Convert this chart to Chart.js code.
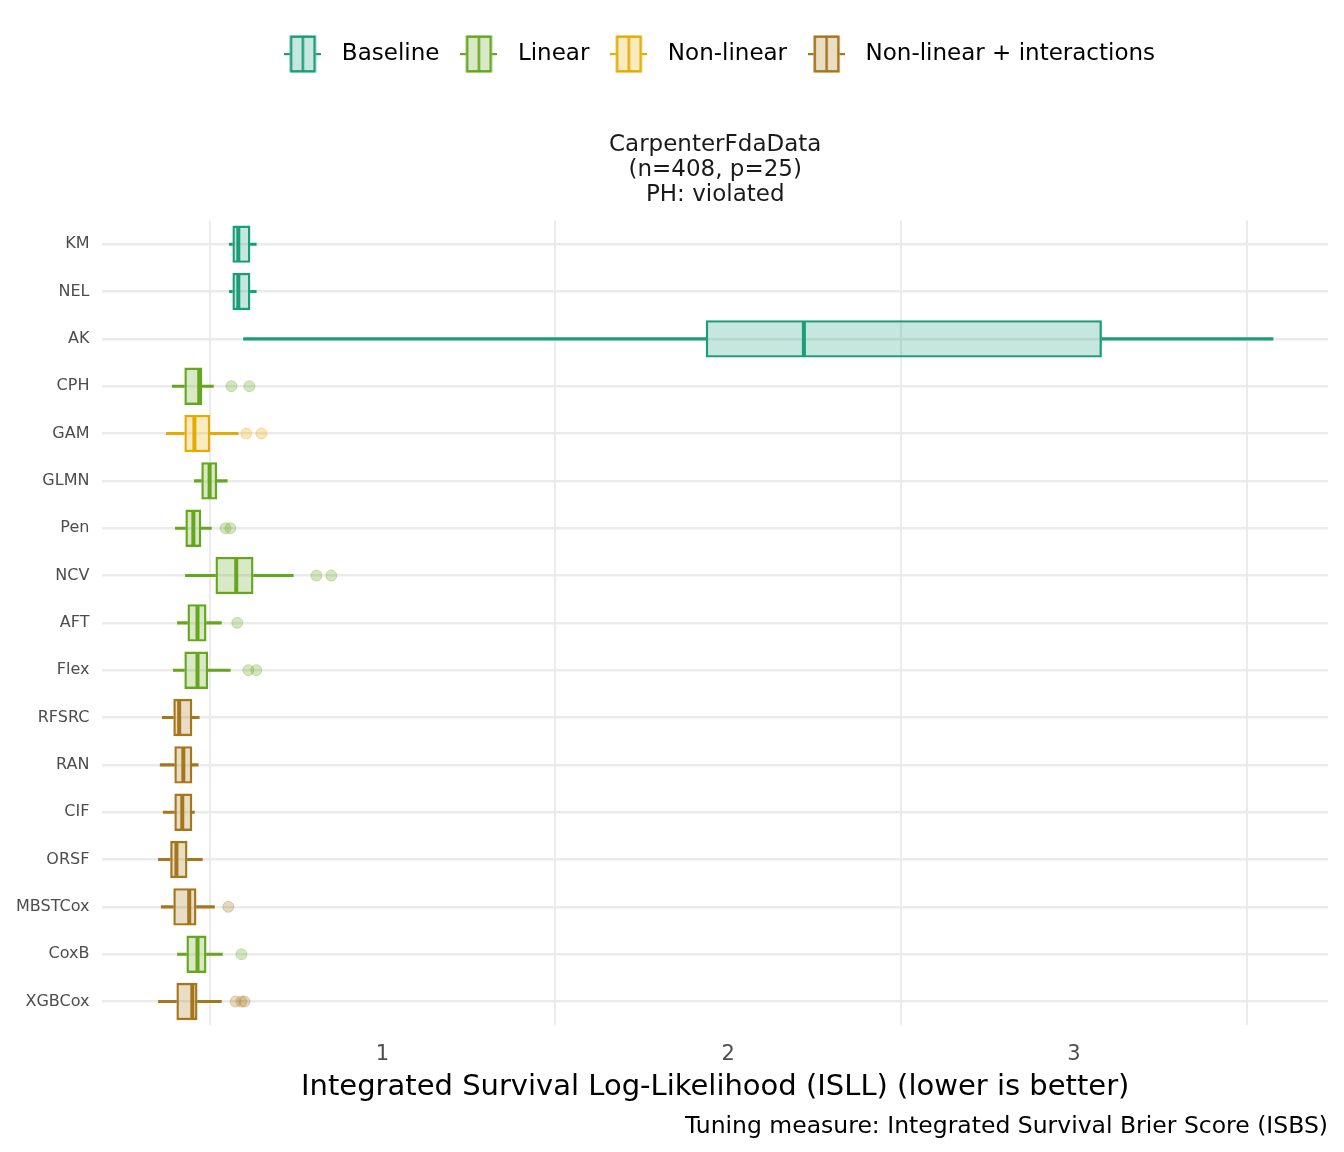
<!DOCTYPE html>
<html lang="en">
<head>
  <meta charset="UTF-8">
  <title>ISLL boxplots - CarpenterFdaData</title>
  <script src="https://cdn.jsdelivr.net/npm/chart.js"></script>
  <style>
    html, body { margin: 0; padding: 0; background: #fff; }
    #wrap { width: 1344px; height: 1152px; }
  </style>
</head>
<body>
  <div id="wrap"><canvas id="chart" width="1344" height="1152"></canvas></div>

  <script>
    // learners, top to bottom
    const categories = ['KM', 'NEL', 'AK', 'CPH', 'GAM', 'GLMN', 'Pen', 'NCV', 'AFT', 'Flex',
                        'RFSRC', 'RAN', 'CIF', 'ORSF', 'MBSTCox', 'CoxB', 'XGBCox'];
    const groupOf = ['Baseline', 'Baseline', 'Baseline', 'Linear', 'Non-linear', 'Linear', 'Linear', 'Linear', 'Linear', 'Linear',
                     'Non-linear + interactions', 'Non-linear + interactions', 'Non-linear + interactions', 'Non-linear + interactions',
                     'Non-linear + interactions', 'Linear', 'Non-linear + interactions'];

    // box statistics (ISLL)
    const whiskerLow  = [0.557, 0.557, 0.598, 0.392, 0.375, 0.456, 0.401, 0.430, 0.407, 0.395, 0.363, 0.357, 0.366, 0.352, 0.360, 0.407, 0.352];
    const q1          = [0.566, 0.566, 1.935, 0.427, 0.427, 0.476, 0.430, 0.517, 0.436, 0.427, 0.395, 0.398, 0.398, 0.386, 0.395, 0.433, 0.404];
    const median      = [0.583, 0.583, 2.219, 0.470, 0.456, 0.500, 0.453, 0.577, 0.465, 0.465, 0.412, 0.424, 0.421, 0.404, 0.441, 0.465, 0.450];
    const q3          = [0.618, 0.618, 3.081, 0.479, 0.502, 0.522, 0.476, 0.627, 0.491, 0.496, 0.450, 0.450, 0.450, 0.436, 0.462, 0.491, 0.465];
    const whiskerHigh = [0.635, 0.635, 3.576, 0.511, 0.583, 0.551, 0.505, 0.742, 0.534, 0.560, 0.470, 0.467, 0.456, 0.479, 0.514, 0.537, 0.534];

    // outliers
    const outlierCats = ['CPH', 'CPH', 'GAM', 'GAM', 'Pen', 'Pen', 'NCV', 'NCV', 'AFT', 'Flex', 'Flex', 'MBSTCox', 'CoxB', 'XGBCox', 'XGBCox', 'XGBCox'];
    const outlierVals = [0.563, 0.615, 0.606, 0.650, 0.546, 0.560, 0.809, 0.852, 0.580, 0.612, 0.635, 0.554, 0.592, 0.575, 0.592, 0.601];

    const xTicks = [0.5, 1, 1.5, 2, 2.5, 3, 3.5];

    const groups = ['Baseline', 'Linear', 'Non-linear', 'Non-linear + interactions'];
    const groupColors = {
      'Baseline': [27, 158, 119],
      'Linear': [102, 166, 30],
      'Non-linear': [230, 171, 2],
      'Non-linear + interactions': [166, 118, 29]
    };
    const rgba = (c, a) => `rgba(${c[0]},${c[1]},${c[2]},${a})`;
    const catColor = (cat, a) => rgba(groupColors[groupOf[categories.indexOf(cat)]], a);

    const FONT = "'DejaVu Sans', 'Liberation Sans', sans-serif";

    // small boxplot key glyph for the legend
    const makeGlyph = (c) => {
      const cv = document.createElement('canvas');
      cv.width = 37; cv.height = 38;
      const g = cv.getContext('2d');
      g.fillStyle = rgba(c, 1);
      g.fillRect(0, 18, 37, 2.2);
      g.fillStyle = '#fff';
      g.fillRect(5.5, 0.5, 26, 37);
      g.fillStyle = rgba(c, 0.25);
      g.fillRect(5.5, 0.5, 26, 37);
      g.strokeStyle = rgba(c, 1);
      g.lineWidth = 2.4;
      g.strokeRect(6.7, 1.7, 23.6, 34.6);
      g.beginPath();
      g.moveTo(18.5, 1.7); g.lineTo(18.5, 36.3);
      g.stroke();
      return cv;
    };
    const glyphs = groups.map(gr => makeGlyph(groupColors[gr]));

    // draws the median line of each box through the x scale
    const medianPlugin = {
      id: 'medianLines',
      afterDatasetDraw(chart, args) {
        if (chart.data.datasets[args.index].id !== 'box') return;
        const ctx = chart.ctx;
        const xs = chart.scales.x;
        ctx.save();
        args.meta.data.forEach((el, i) => {
          const x = xs.getPixelForValue(median[i]);
          const h = el.height;
          ctx.strokeStyle = catColor(categories[i], 1);
          ctx.lineWidth = 4;
          ctx.beginPath();
          ctx.moveTo(x, el.y - h / 2 + 1);
          ctx.lineTo(x, el.y + h / 2 - 1);
          ctx.stroke();
        });
        ctx.restore();
      }
    };

    const solid = categories.map(c => catColor(c, 1));

    new Chart(document.getElementById('chart'), {
      type: 'bar',
      data: {
        labels: categories,
        datasets: [
          {
            id: 'wlo', data: categories.map((c, i) => [whiskerLow[i], q1[i]]),
            backgroundColor: solid, borderWidth: 0, barThickness: 2.4, grouped: false, order: 3
          },
          {
            id: 'whi', data: categories.map((c, i) => [q3[i], whiskerHigh[i]]),
            backgroundColor: solid, borderWidth: 0, barThickness: 2.4, grouped: false, order: 3
          },
          {
            id: 'box', data: categories.map((c, i) => [q1[i], q3[i]]),
            backgroundColor: categories.map(c => catColor(c, 0.25)),
            borderColor: solid, borderWidth: 2.4, borderSkipped: false,
            categoryPercentage: 1, barPercentage: 0.79, grouped: false, order: 2
          },
          {
            id: 'out', type: 'scatter',
            data: outlierVals.map((v, i) => ({ x: v, y: outlierCats[i] })),
            backgroundColor: outlierCats.map(c => catColor(c, 0.28)),
            borderColor: outlierCats.map(c => catColor(c, 0.3)),
            borderWidth: 1, pointRadius: 5.5, order: 1
          }
        ]
      },
      options: {
        indexAxis: 'y',
        responsive: false,
        animation: false,
        layout: { padding: { left: 3, right: 16, top: 30.5, bottom: 11.4 } },
        scales: {
          x: {
            type: 'linear', min: 0.19, max: 3.735,
            afterBuildTicks: (s) => { s.ticks = xTicks.map(v => ({ value: v })); },
            grid: {
              color: (c) => Number.isInteger(c.tick && c.tick.value) ? 'rgba(0,0,0,0)' : '#ebebeb',
              lineWidth: 2, drawTicks: false
            },
            border: { display: false },
            ticks: {
              callback: (v) => Number.isInteger(v) ? String(v) : '',
              color: '#4d4d4d', font: { family: FONT, size: 21 }, padding: 16.7, maxRotation: 0, autoSkip: false
            },
            title: {
              display: true, text: 'Integrated Survival Log-Likelihood (ISLL) (lower is better)',
              color: '#000', font: { family: FONT, size: 29 }, padding: { top: -13.7, bottom: 0 }
            }
          },
          y: {
            type: 'category', offset: true,
            grid: { offset: false, color: '#ebebeb', lineWidth: 2.5, drawTicks: false },
            border: { display: false },
            ticks: { color: '#4d4d4d', font: { family: FONT, size: 16 }, padding: 13 }
          }
        },
        plugins: {
          tooltip: { enabled: false },
          legend: {
            position: 'top', fullSize: false, weight: 3000,
            onClick: null,
            labels: {
              usePointStyle: true, pointStyleWidth: 55, padding: 12,
              color: '#000', font: { family: FONT, size: 23 },
              generateLabels: () => groups.map((g, i) => ({
                text: g, pointStyle: glyphs[i], fillStyle: 'rgba(0,0,0,0)',
                strokeStyle: 'rgba(0,0,0,0)', lineWidth: 0, hidden: false, datasetIndex: 0, fontColor: '#000'
              }))
            }
          },
          title: {
            display: true, fullSize: false, weight: 500,
            text: ['CarpenterFdaData', '(n=408, p=25)', 'PH: violated'],
            color: '#1a1a1a', font: { family: FONT, size: 23, weight: 'normal', lineHeight: 1.09 },
            padding: { top: 57.3, bottom: 12.5 }
          },
          subtitle: {
            display: true, position: 'bottom', align: 'end',
            text: 'Tuning measure: Integrated Survival Brier Score (ISBS)',
            color: '#000', font: { family: FONT, size: 23.5 },
            padding: { top: 7.5, bottom: 0 }
          }
        }
      },
      plugins: [medianPlugin]
    });
  </script>
</body>
</html>
